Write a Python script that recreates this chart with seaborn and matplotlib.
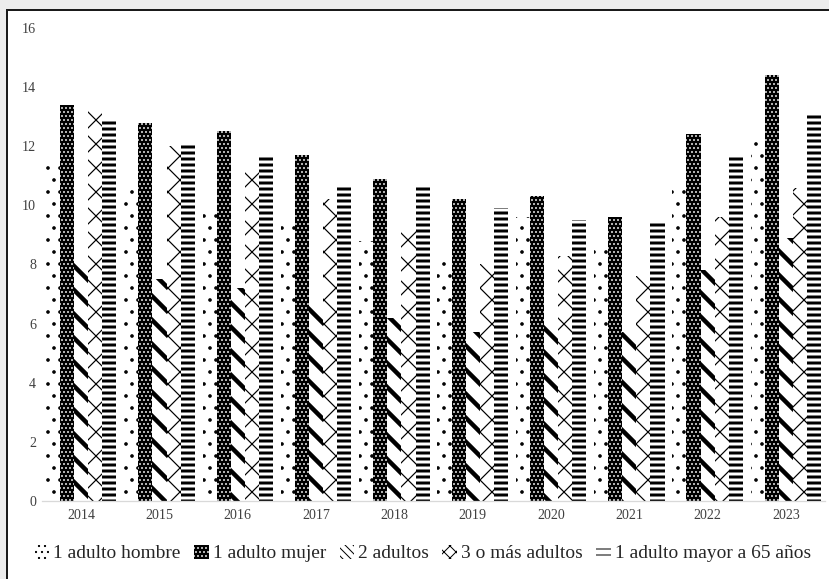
import seaborn as sns
import pandas as pd
import matplotlib.pyplot as plt
from matplotlib.patches import Patch, Rectangle

years = ["2014", "2015", "2016", "2017", "2018", "2019", "2020", "2021", "2022", "2023"]
groups = ["1 adulto hombre", "1 adulto mujer", "2 adultos", "3 o más adultos",
          "1 adulto mayor a 65 años"]
hombre = [11.5, 10.7, 9.9, 9.4, 8.8, 8.3, 9.6, 8.7, 10.7, 12.4]
mujer = [13.4, 12.8, 12.5, 11.7, 10.9, 10.2, 10.3, 9.6, 12.4, 14.4]
dos_adultos = [8.1, 7.5, 7.2, 6.6, 6.2, 5.7, 6.0, 5.7, 7.8, 8.9]
tres_mas = [13.2, 12.0, 11.4, 10.2, 9.2, 8.0, 8.3, 7.6, 9.6, 10.6]
mayor_65 = [12.9, 12.1, 11.7, 10.7, 10.7, 9.9, 9.5, 9.4, 11.7, 13.1]

rows = []
for g, vals in zip(groups, [hombre, mujer, dos_adultos, tres_mas, mayor_65]):
    for y, v in zip(years, vals):
        rows.append({"year": y, "grupo": g, "valor": v})
df = pd.DataFrame(rows)

sns.set_theme(style="white")
plt.rcParams["font.family"] = ["Liberation Serif", "DejaVu Serif"]

# dpi 72 so that hatch spacing is fine enough for the narrow bars
DPI = 72

# (facecolor, hatch colour, hatch, hatch linewidth)
styles = [
    ("white", "black", ".", 1.2),
    ("black", "white", "...", 1.0),
    ("white", "black", "\\", 4.5),
    ("white", "black", "x", 1.2),
    ("white", "black", "--", 3.0),
]
# the legend squares are small, so they get a denser pattern
legend_hatches = [("..", 1.2), ("...", 1.0), ("\\\\\\", 2.0), ("xx", 1.0), ("--", 2.5)]

fig = plt.figure(figsize=(829 / DPI, 579 / DPI), dpi=DPI)
fig.patch.set_facecolor("#ececec")
fig.patches.append(Rectangle((7 / 829, -0.05), 1.1, 1.05 - 10 / 579,
                             transform=fig.transFigure, facecolor="white",
                             edgecolor="#1a1a1a", linewidth=2, zorder=-5))
ax = fig.add_axes([0.0507, 0.1347, 0.9445, 0.817])

sns.barplot(data=df, x="year", y="valor", hue="grupo", hue_order=groups,
            palette=[s[0] for s in styles], width=0.9, legend=False, ax=ax)

for cont, (fc, hc, hatch, hlw) in zip(ax.containers, styles):
    for bar in cont:
        bar.set_facecolor(fc)
        bar.set_edgecolor(hc)
        bar.set_linewidth(0)
        bar.set_hatch(hatch)
        try:
            bar.set_hatch_linewidth(hlw)
        except AttributeError:
            pass

ax.set_ylim(0, 16)
ax.set_yticks(range(0, 17, 2))
ax.set_xlabel("")
ax.set_ylabel("")
ax.set_facecolor("none")
for side in ["top", "right", "left"]:
    ax.spines[side].set_visible(False)
ax.spines["bottom"].set_color("#d9d9d9")
ax.spines["bottom"].set_linewidth(1.3)
ax.tick_params(axis="both", length=0, labelsize=14, labelcolor="#404040")
ax.tick_params(axis="x", pad=8)
ax.tick_params(axis="y", pad=6)

handles = []
for (fc, hc, _, _), (hatch, hlw) in zip(styles, legend_hatches):
    p = Patch(facecolor=fc, edgecolor=hc, linewidth=0, hatch=hatch)
    try:
        p.set_hatch_linewidth(hlw)
    except AttributeError:
        pass
    handles.append(p)
fig.legend(handles, groups, loc="center", bbox_to_anchor=(0.51, 0.044), ncol=5,
           frameon=False, fontsize=19.4, handlelength=0.75, handleheight=0.75,
           handletextpad=0.2, columnspacing=0.7, labelcolor="#262626")

fig.savefig("out.png", dpi=DPI, facecolor=fig.get_facecolor())
